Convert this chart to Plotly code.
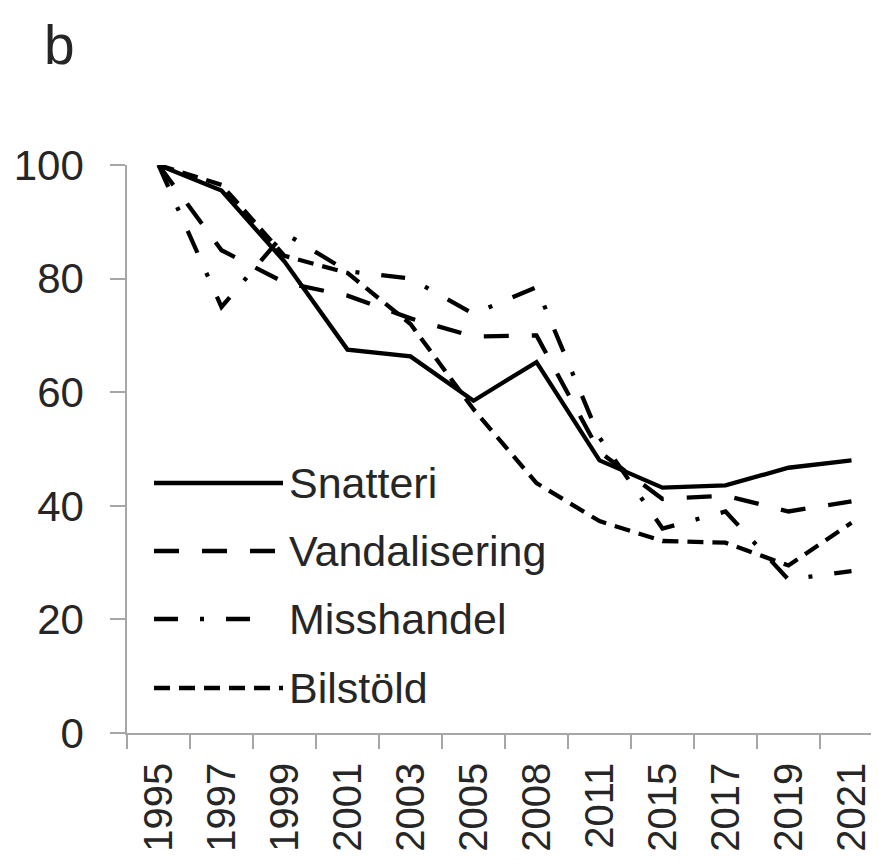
import plotly.graph_objects as go

# ---- data ----
years = ["1995", "1997", "1999", "2001", "2003", "2005", "2008", "2011", "2015", "2017", "2019", "2021"]
snatteri = [100, 95.5, 83, 67.5, 66.3, 58.5, 65.3, 48, 43.2, 43.6, 46.7, 48]
vandalisering = [100, 85, 79.3, 77, 73, 69.8, 70, 49.5, 41.2, 41.8, 39, 40.8]
misshandel = [100, 75, 88, 81.3, 80, 73.8, 78.5, 52, 36, 39, 27, 28.5]
bilstold = [100, 96.5, 84, 81, 72, 57, 44, 37.3, 33.8, 33.5, 29.5, 37]
series_names = ["Snatteri", "Vandalisering", "Misshandel", "Bilstöld"]
y_ticks = [0, 20, 40, 60, 80, 100]
panel_label = "b"

# ---- styles ----
dashes = ["solid", "25px,23px", "24px,22px,4px,22px", "16px,9px"]
series_values = [snatteri, vandalisering, misshandel, bilstold]
INK = "#262626"
AXIS = "#A6A6A6"
FONT = "Liberation Sans, Arial, sans-serif"

OFF = 8  # page body margin
W, H = 879 - OFF, 860 - OFF
L, R, T = 127 - OFF, 0, 165 - OFF
B = H - (733 - OFF)
PW, PH = W - L - R, H - T - B


def px_to_paper_x(px):
    return (px - OFF - L) / PW


def px_to_paper_y(py):
    return (H - B - (py - OFF)) / PH


fig = go.Figure()
for name, vals, dash in zip(series_names, series_values, dashes):
    fig.add_trace(go.Scatter(
        x=years, y=vals, mode="lines", name=name, showlegend=False,
        line=dict(color="black", width=4.3, dash=dash),
        cliponaxis=False,
    ))

# manual legend (long line samples as in the reference)
legend_rows = [483, 551, 619, 688]
legend_ends = [283, 281, 262, 283]
shapes = []
annotations = []
for name, dash, row, xend in zip(series_names, dashes, legend_rows, legend_ends):
    shapes.append(dict(
        type="line", xref="paper", yref="paper",
        x0=px_to_paper_x(154), x1=px_to_paper_x(xend),
        y0=px_to_paper_y(row), y1=px_to_paper_y(row),
        line=dict(color="black", width=4.3, dash=dash),
    ))
    annotations.append(dict(
        text=name, xref="paper", yref="paper",
        x=px_to_paper_x(287), y=px_to_paper_y(row),
        xanchor="left", yanchor="middle", showarrow=False,
        font=dict(family=FONT, size=43, color=INK),
    ))

annotations.append(dict(
    text=panel_label, xref="paper", yref="paper",
    x=px_to_paper_x(42), y=px_to_paper_y(12),
    xanchor="left", yanchor="top", showarrow=False,
    font=dict(family=FONT, size=55, color=INK),
))

fig.update_layout(
    width=W, height=H,
    margin=dict(l=L, r=R, t=T, b=B, autoexpand=False),
    paper_bgcolor="white", plot_bgcolor="white",
    shapes=shapes, annotations=annotations,
    showlegend=False,
    xaxis=dict(
        type="category", range=[-0.5, -0.5 + PW / 63.0],
        tickson="boundaries", ticks="outside", ticklen=14,
        tickcolor=AXIS, tickwidth=1.5,
        showline=True, linecolor=AXIS, linewidth=1.5,
        showgrid=False, zeroline=False,
        tickangle=-90, ticklabelstandoff=12,
        tickfont=dict(family=FONT, size=40, color=INK),
    ),
    yaxis=dict(
        range=[0, 100], tickmode="array", tickvals=y_ticks,
        ticks="outside", ticklen=15, tickcolor=AXIS, tickwidth=1.5,
        showline=True, linecolor=AXIS, linewidth=1.5,
        showgrid=False, zeroline=False,
        ticklabelstandoff=18,
        tickfont=dict(family=FONT, size=42, color=INK),
    ),
)

fig.write_html("out.html")
